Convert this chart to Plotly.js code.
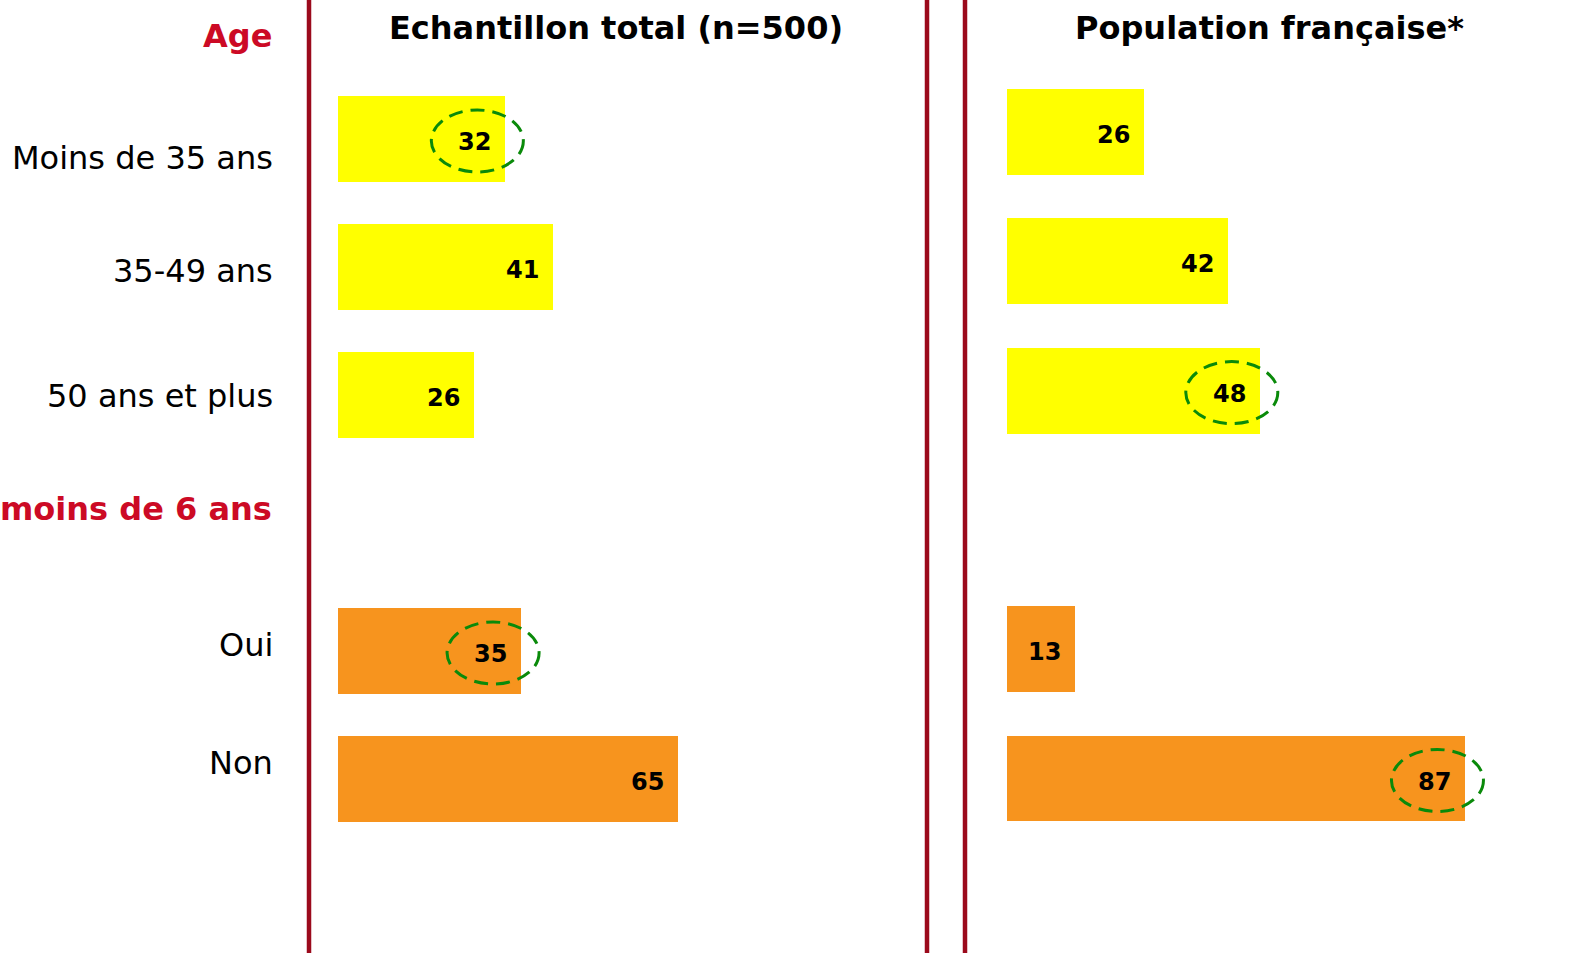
<!DOCTYPE html>
<html>
<head>
<meta charset="utf-8">
<script src="https://cdn.plot.ly/plotly-3.0.1.min.js"></script>
<style>html,body{margin:0;padding:0;background:#fff;}#chart{width:1570px;height:953px;}</style>
</head>
<body>
<div id="chart"></div>
<script>
// ---- data ----
const groupHeaders = ['Age', 'moins de 6 ans'];
const ageCategories = ['Moins de 35 ans', '35-49 ans', '50 ans et plus'];
const childCategories = ['Oui', 'Non'];
const sampleAge = [32, 41, 26];
const sampleChild = [35, 65];
const populationAge = [26, 42, 48];
const populationChild = [13, 87];
const panelTitles = ['Echantillon total (n=500)', 'Population française*'];
// values circled in the original
const sampleHighlight = [true, false, false, true, false];
const populationHighlight = [false, false, true, false, true];

// ---- layout helpers ----
const W = 1570, H = 953;
const categories = ageCategories.concat(childCategories);
const sampleValues = sampleAge.concat(sampleChild);
const populationValues = populationAge.concat(populationChild);
const slots = [0, 1, 2, 4, 5];      // row slot of each category
const headerSlots = [-1, 3];
const colors = ageCategories.map(() => '#FFFF00').concat(childCategories.map(() => '#F7941E'));

const labelShift = [-19, -4, -1, 6, 16];
const headerShift = [-25, 14];

function yRange(firstPx, stepPx) {
  return [(H - firstPx) / stepPx, -firstPx / stepPx];
}

const traces = [
  {type: 'bar', orientation: 'h', x: sampleValues, y: slots, xaxis: 'x', yaxis: 'y',
   marker: {color: colors, line: {width: 0}}, width: 0.665, hoverinfo: 'none'},
  {type: 'bar', orientation: 'h', x: populationValues, y: slots, xaxis: 'x2', yaxis: 'y2',
   marker: {color: colors, line: {width: 0}}, width: 0.665, hoverinfo: 'none'}
];

const annotations = [];
const valFont = {family: 'DejaVu Sans', size: 24, color: '#000', weight: 'bold'};
sampleValues.forEach((v, i) => annotations.push({
  x: v, y: slots[i], xref: 'x', yref: 'y', text: String(v), showarrow: false,
  xanchor: 'right', xshift: -12, yshift: -3, font: valFont}));
populationValues.forEach((v, i) => annotations.push({
  x: v, y: slots[i], xref: 'x2', yref: 'y2', text: String(v), showarrow: false,
  xanchor: 'right', xshift: -12, yshift: -3, font: valFont}));
categories.forEach((c, i) => annotations.push({
  x: 275 / W, y: slots[i], xref: 'paper', yref: 'y', text: c, showarrow: false,
  xanchor: 'right', yshift: labelShift[i],
  font: {family: 'DejaVu Sans', size: 32, color: '#000'}}));
groupHeaders.forEach((h, i) => annotations.push({
  x: 274 / W, y: headerSlots[i], xref: 'paper', yref: 'y', text: h, showarrow: false,
  xanchor: 'right', yshift: headerShift[i],
  font: {family: 'DejaVu Sans', size: 32, color: '#CC0A25', weight: 'bold'}}));
const titleX = [616, 1269];
panelTitles.forEach((t, i) => annotations.push({
  x: titleX[i] / W, y: 1 - 28 / H, xref: 'paper', yref: 'paper', text: t, showarrow: false,
  xanchor: 'center', yanchor: 'middle',
  font: {family: 'DejaVu Sans', size: 32, color: '#000', weight: 'bold'}}));

const shapes = [];
[309, 927, 965].forEach(px => shapes.push({
  type: 'line', xref: 'paper', yref: 'paper', x0: px / W, x1: px / W, y0: 0, y1: 1,
  line: {color: '#9B0A1C', width: 4.5}}));
function ring(v, slot, xr, yr) {
  shapes.push({type: 'circle', xref: xr, yref: yr,
    xsizemode: 'pixel', ysizemode: 'pixel', xanchor: v, yanchor: slot,
    x0: -74, x1: 18, y0: -33, y1: 29,
    line: {color: '#0A8A0A', width: 3, dash: '14px,8px'}, fillcolor: 'rgba(0,0,0,0)'});
}
sampleValues.forEach((v, i) => { if (sampleHighlight[i]) ring(v, slots[i], 'x', 'y'); });
populationValues.forEach((v, i) => { if (populationHighlight[i]) ring(v, slots[i], 'x2', 'y2'); });

const axX = {range: [0, 100], showgrid: false, zeroline: false, showticklabels: false, showline: false, ticks: '', fixedrange: true};
const layout = {
  width: W, height: H, margin: {l: 0, r: 0, t: 0, b: 0},
  paper_bgcolor: '#fff', plot_bgcolor: 'rgba(0,0,0,0)', showlegend: false, bargap: 0,
  xaxis: Object.assign({}, axX, {domain: [337.5 / W, 862 / W], anchor: 'y'}),
  xaxis2: Object.assign({}, axX, {domain: [1006.7 / W, 1534 / W], anchor: 'y2'}),
  yaxis: {range: yRange(139, 128), showgrid: false, zeroline: false, showticklabels: false, ticks: '', domain: [0, 1], anchor: 'x'},
  yaxis2: {range: yRange(132, 129.3), showgrid: false, zeroline: false, showticklabels: false, ticks: '', domain: [0, 1], anchor: 'x2'},
  annotations: annotations, shapes: shapes
};
Plotly.newPlot('chart', traces, layout, {staticPlot: true, displayModeBar: false});
</script>
</body>
</html>
